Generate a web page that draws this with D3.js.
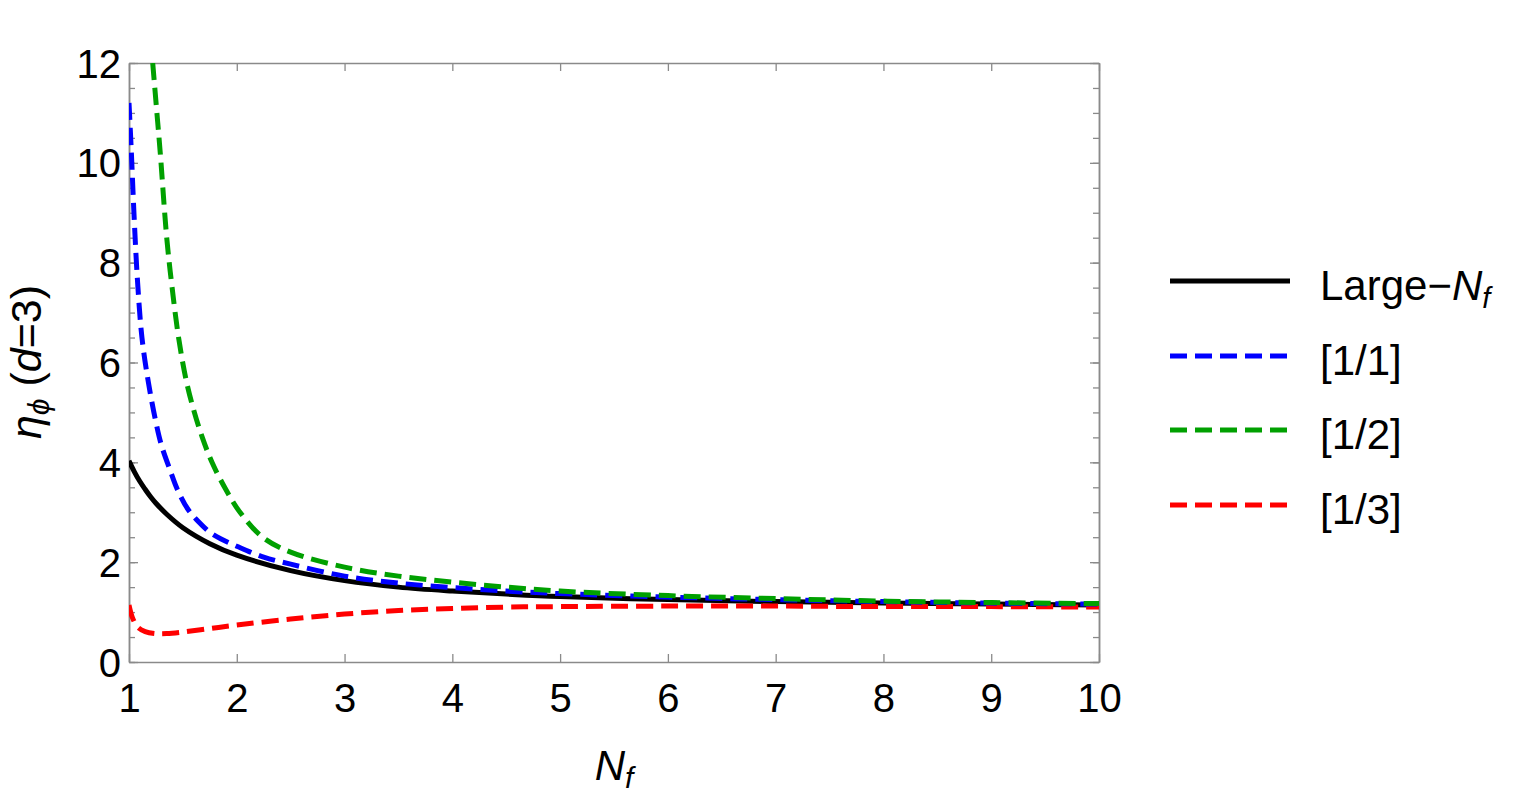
<!DOCTYPE html>
<html>
<head>
<meta charset="utf-8">
<script src="https://cdn.jsdelivr.net/npm/d3@7"></script>
<style>
  html, body { margin: 0; padding: 0; background: #fff; }
  svg { display: block; }
  text { font-family: "Liberation Sans", Arial, sans-serif; fill: #000; }
</style>
</head>
<body>
<script>
// ---------- data ----------
const xTickValues = [1, 2, 3, 4, 5, 6, 7, 8, 9, 10];
const yTickValues = [0, 2, 4, 6, 8, 10, 12];
const yMinorStep = 0.5;

const seriesNames = ["Large\u2212N_f", "[1/1]", "[1/2]", "[1/3]"];

const largeN_N = [1, 1.05, 1.1, 1.15, 1.2, 1.25, 1.35, 1.5, 1.75, 2, 2.5, 3, 3.5, 4, 4.5, 5, 6, 7, 8, 9, 10];
const largeN_eta = [4.03, 3.81, 3.62, 3.46, 3.31, 3.18, 2.96, 2.69, 2.37, 2.14, 1.83, 1.63, 1.5, 1.42, 1.36, 1.31, 1.25, 1.21, 1.18, 1.16, 1.14];

const pade11_N = [1, 1.02, 1.05, 1.08, 1.12, 1.18, 1.25, 1.3, 1.38, 1.45, 1.55, 1.65, 1.75, 1.85, 2, 2.25, 2.5, 3, 3.5, 4, 4.5, 5, 6, 7, 8, 9, 10];
const pade11_eta = [11.2, 10.3, 8.8, 7.6, 6.5, 5.6, 4.8, 4.35, 3.85, 3.45, 3.05, 2.8, 2.6, 2.47, 2.32, 2.1, 1.96, 1.72, 1.58, 1.49, 1.42, 1.37, 1.3, 1.25, 1.21, 1.18, 1.16];

const pade12_N = [1.22, 1.255, 1.29, 1.35, 1.4, 1.46, 1.53, 1.6, 1.68, 1.77, 1.9, 2.03, 2.24, 2.5, 3, 3.5, 4, 4.5, 5, 6, 7, 8, 9, 10];
const pade12_eta = [12, 11.1, 10.2, 8.5, 7.5, 6.5, 5.65, 5.05, 4.5, 4.0, 3.45, 3.0, 2.5, 2.2, 1.9, 1.72, 1.6, 1.5, 1.42, 1.33, 1.27, 1.22, 1.19, 1.17];

const pade13_N = [1, 1.03, 1.08, 1.15, 1.25, 1.35, 1.5, 1.75, 2, 2.5, 3, 3.5, 4, 4.5, 5, 6, 7, 8, 9, 10];
const pade13_eta = [1.14, 0.9, 0.7, 0.61, 0.57, 0.57, 0.6, 0.67, 0.74, 0.86, 0.96, 1.03, 1.07, 1.1, 1.11, 1.12, 1.12, 1.11, 1.11, 1.1];

// ---------- layout ----------
const W = 1519, H = 796;
const plot = { left: 129, right: 1099, top: 63, bottom: 662 };
const frameColor = "#8a8a8a";

const svg = d3.select("body").append("svg").attr("width", W).attr("height", H);

const x = d3.scaleLinear().domain([1, 10]).range([plot.left, plot.right]);
const y = d3.scaleLinear().domain([0, 12]).range([plot.bottom, plot.top]);

svg.append("defs").append("clipPath").attr("id", "clip")
  .append("rect")
  .attr("x", plot.left).attr("y", plot.top)
  .attr("width", plot.right - plot.left).attr("height", plot.bottom - plot.top);

const yMinor = d3.range(0, 12 + 1e-9, yMinorStep);

function styleAxis(g) {
  g.select(".domain").attr("stroke", frameColor).attr("stroke-width", 1.5);
  g.selectAll(".tick line").attr("stroke", frameColor).attr("stroke-width", 1.3);
}

// bottom
svg.append("g").attr("transform", `translate(0,${plot.bottom})`)
  .call(d3.axisBottom(x).tickValues(xTickValues).tickSizeInner(-8).tickSizeOuter(0).tickFormat(d3.format("d")))
  .call(styleAxis)
  .call(g => g.selectAll(".tick text").attr("font-size", 40).attr("y", 50).attr("dy", 0)
        .attr("font-family", "Liberation Sans, Arial, sans-serif").attr("fill", "#000"));
// top
svg.append("g").attr("transform", `translate(0,${plot.top})`)
  .call(d3.axisTop(x).tickValues(xTickValues).tickSizeInner(-8).tickSizeOuter(0).tickFormat(""))
  .call(styleAxis);
// left minor
svg.append("g").attr("transform", `translate(${plot.left},0)`)
  .call(d3.axisLeft(y).tickValues(yMinor).tickSizeInner(-6).tickSizeOuter(0).tickFormat(""))
  .call(styleAxis);
// left major with labels
svg.append("g").attr("transform", `translate(${plot.left},0)`)
  .call(d3.axisLeft(y).tickValues(yTickValues).tickSizeInner(-9).tickSizeOuter(0).tickFormat(d3.format("d")))
  .call(styleAxis)
  .call(g => g.selectAll(".tick text").attr("font-size", 40).attr("x", -8).attr("dy", "0.35em")
        .attr("font-family", "Liberation Sans, Arial, sans-serif").attr("fill", "#000"));
// right minor + major
svg.append("g").attr("transform", `translate(${plot.right},0)`)
  .call(d3.axisRight(y).tickValues(yMinor).tickSizeInner(-6).tickSizeOuter(0).tickFormat(""))
  .call(styleAxis);
svg.append("g").attr("transform", `translate(${plot.right},0)`)
  .call(d3.axisRight(y).tickValues(yTickValues).tickSizeInner(-9).tickSizeOuter(0).tickFormat(""))
  .call(styleAxis);

// ---------- curves ----------
const series = [
  { name: seriesNames[0], N: largeN_N, v: largeN_eta, color: "#000000", dash: null },
  { name: seriesNames[1], N: pade11_N, v: pade11_eta, color: "#0000ff", dash: "17,8" },
  { name: seriesNames[2], N: pade12_N, v: pade12_eta, color: "#00a000", dash: "17,8" },
  { name: seriesNames[3], N: pade13_N, v: pade13_eta, color: "#ff0000", dash: "17,8" }
];

const line = d3.line().x(d => x(d[0])).y(d => y(d[1])).curve(d3.curveCatmullRom.alpha(0.5));

const curves = svg.append("g").attr("clip-path", "url(#clip)");
const drawOrder = [0, 3, 1, 2];
drawOrder.forEach(i => {
  const s = series[i];
  curves.append("path")
    .datum(s.N.map((n, k) => [n, s.v[k]]))
    .attr("d", line)
    .attr("fill", "none")
    .attr("stroke", s.color)
    .attr("stroke-width", 5)
    .attr("stroke-linecap", "butt")
    .attr("stroke-dasharray", s.dash);
});

// ---------- legend ----------
const legendRows = [281, 356, 430, 505];
const legend = svg.append("g");
series.forEach((s, i) => {
  const ly = legendRows[i];
  legend.append("line")
    .attr("x1", 1170).attr("x2", 1290).attr("y1", ly).attr("y2", ly)
    .attr("stroke", s.color).attr("stroke-width", 5)
    .attr("stroke-dasharray", s.dash);
  const t = legend.append("text").attr("x", 1320).attr("y", ly + 19).attr("font-size", 42);
  if (i === 0) {
    t.append("tspan").text("Large\u2212");
    t.append("tspan").attr("font-style", "italic").text("N");
    t.append("tspan").attr("font-style", "italic").attr("font-size", 29).attr("dy", 8).text("f");
  } else {
    t.text(s.name);
  }
});

// ---------- axis labels ----------
const xl = svg.append("text").attr("x", (plot.left + plot.right) / 2).attr("y", 780)
  .attr("text-anchor", "middle").attr("font-size", 42);
xl.append("tspan").attr("font-style", "italic").text("N");
xl.append("tspan").attr("font-style", "italic").attr("font-size", 30).attr("dy", 8).text("f");

const yl = svg.append("text").attr("transform", "translate(41,362) rotate(-90)")
  .attr("text-anchor", "middle").attr("font-size", 43);
yl.append("tspan").attr("font-style", "italic").text("\u03B7");
yl.append("tspan").attr("font-style", "italic").attr("font-size", 30).attr("dy", 8).text("\u03D5");
yl.append("tspan").attr("dy", -8).text(" (");
yl.append("tspan").attr("font-style", "italic").text("d");
yl.append("tspan").text("=3)");
</script>
</body>
</html>
